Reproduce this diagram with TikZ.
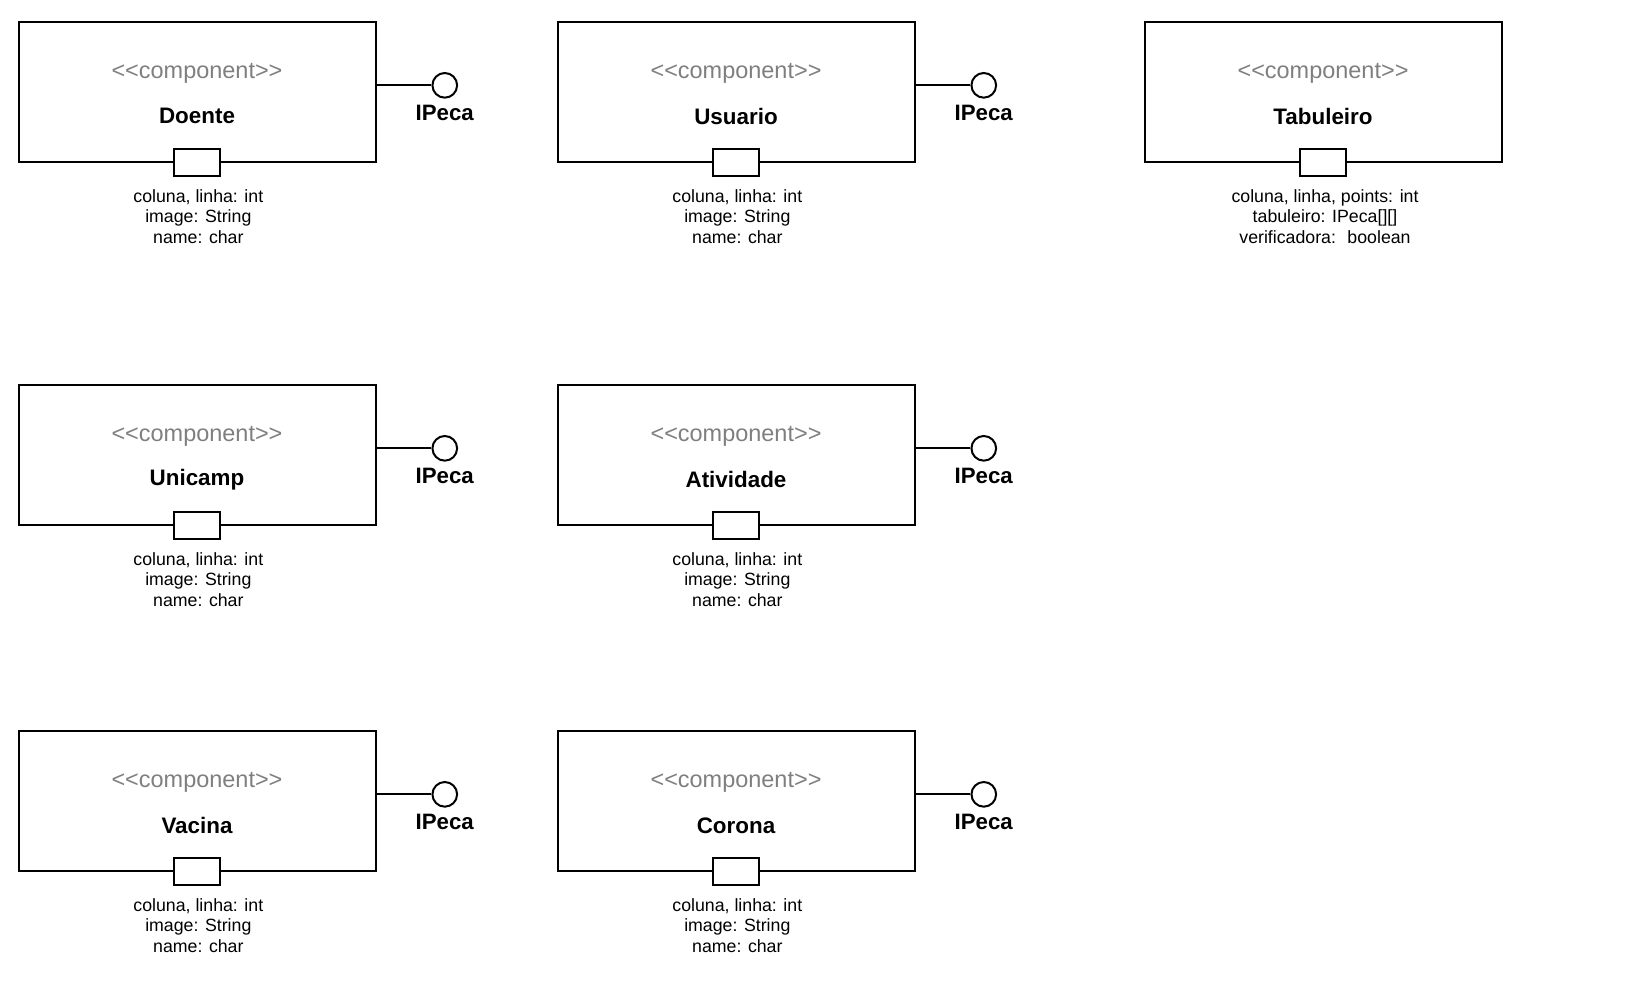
\documentclass[tikz,border=0pt]{standalone}
\usepackage{fontspec}
\setmainfont{Liberation Sans}[Ligatures=TeXOff]
\usetikzlibrary{positioning}
\definecolor{stereogray}{HTML}{7F7F7F}

\tikzset{
  comp/.style={draw, line width=1.5pt, minimum width=267.75pt, minimum height=104.5pt, inner sep=0pt},
  stereo/.style={text=stereogray, font=\fontsize{17.6}{20}\selectfont, inner sep=0pt},
  compname/.style={font=\bfseries\fontsize{16.8}{20}\selectfont, inner sep=0pt},
  port/.style={draw, fill=white, line width=1.5pt, minimum width=34pt, minimum height=20.25pt, inner sep=0pt},
  attrs/.style={align=center, font=\fontsize{13.3}{15.6}\selectfont, inner sep=0pt},
  iface/.style={draw, fill=white, circle, line width=1.5pt, minimum size=18.5pt, inner sep=0pt},
  ifname/.style={font=\bfseries\fontsize{16.7}{20}\selectfont, inner sep=0pt}
}

\begin{document}
\begin{tikzpicture}[x=0.75pt, y=-0.75pt]
  \useasboundingbox (0,0) rectangle (1626,999);

  % pieces of the board, all with the IPeca interface
  \foreach \nm/\x/\y in {Doente/197/92, Usuario/736/92, Unicamp/197/455,
                         Atividade/736/455, Vacina/197/801, Corona/736/801}{
    %Define nodes
    \node[comp] (\nm) at (\x,\y) {};
    \node[stereo] (\nm-st) at ([yshift=13.8pt]\nm.center) {<<component>>};
    \node[compname] (\nm-name) at ([yshift=-18.3pt]\nm.center) {\nm};
    \node[port] (\nm-port) at (\nm.south) {};
    \node[attrs, below=8.8pt of \nm-port, xshift=1pt] (\nm-attr) {coluna, linha: int\\image: String\\ name: char};
    \node[iface] (\nm-if) at ([xshift=51.2pt, yshift=5pt]\nm.east) {};
    \node[ifname, below=4.8pt of \nm-if] (\nm-ifname) {IPeca};

    % Connect the nodes
    \draw[line width=1.5pt] ([yshift=5pt]\nm.east) -- (\nm-if);
  }

  % the board
  \node[comp] (tab) at (1323,92) {};
  \node[stereo] (tab-st) at ([yshift=13.8pt]tab.center) {<<component>>};
  \node[compname] (tab-name) at ([yshift=-18.3pt]tab.center) {Tabuleiro};
  \node[port] (tab-port) at (tab.south) {};
  \node[attrs, below=8.8pt of tab-port, xshift=1.5pt] (tab-attr) {coluna, linha, points: int\\tabuleiro: IPeca[][]\\verificadora:~ boolean};

\end{tikzpicture}
\end{document}
